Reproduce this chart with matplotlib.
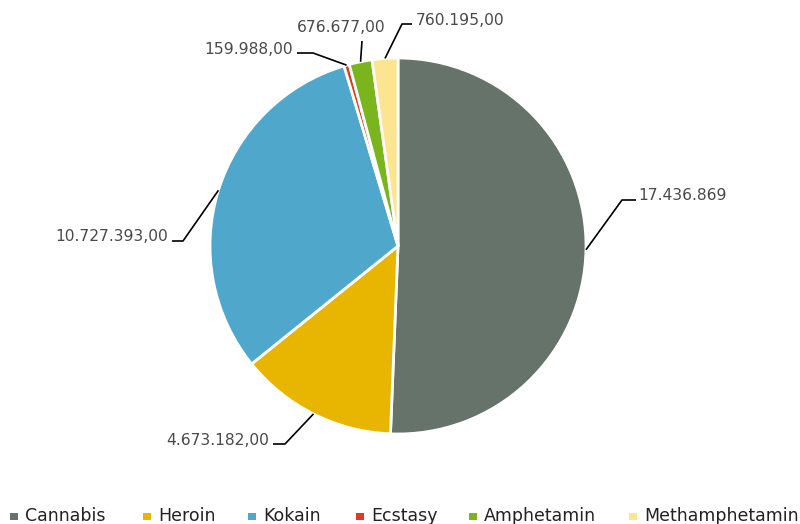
import numpy as np
import matplotlib
matplotlib.use("Agg")
import matplotlib.pyplot as plt
from matplotlib.patches import Rectangle
from matplotlib import font_manager

categories = ["Cannabis", "Heroin", "Kokain", "Ecstasy", "Amphetamin", "Methamphetamin"]
values = [17436869, 4673182, 10727393, 159988, 676677, 760195]
labels = ["17.436.869", "4.673.182,00", "10.727.393,00", "159.988,00", "676.677,00", "760.195,00"]
colors = ["#66736a", "#e8b500", "#4fa8cb", "#e03a1e", "#7ab51d", "#fde490"]

W, H = 800, 524
fig = plt.figure(figsize=(W / 100, H / 100), dpi=100)
ax = fig.add_axes([0, 0, 1, 1])

cx, cy, R = 398, H - 246, 188
wedges, _ = ax.pie(values, colors=colors, startangle=90, counterclock=False,
                   center=(cx, cy), radius=R, frame=True,
                   wedgeprops=dict(edgecolor="white", linewidth=2.0))
ax.set_xlim(0, W)
ax.set_ylim(0, H)
ax.set_aspect("equal")
ax.axis("off")

# leader layout (screen px): elbow point, end point, text anchor, ha
layout = [
    ((622, 200), (636, 200), (638, 200), "left"),
    ((285, 444), (273, 444), (269, 445), "right"),
    ((183, 241), (172, 241), (168, 241), "right"),
    ((313, 53), (297, 53), (293, 54), "right"),
    ((362, 41), (362, 41), (385, 32), "right"),
    ((402, 24), (412, 24), (416, 25), "left"),
]

for w, lab, (elb, end, tpos, ha) in zip(wedges, labels, layout):
    mid = np.deg2rad((w.theta1 + w.theta2) / 2)
    sx = cx + R * np.cos(mid)
    sy = cy + R * np.sin(mid)
    xs = [sx, elb[0], end[0]]
    ys = [sy, H - elb[1], H - end[1]]
    ax.plot(xs, ys, color="black", lw=1.2, solid_capstyle="butt")
    ax.text(tpos[0], H - tpos[1], lab, ha=ha, va="baseline",
            fontsize=11.2, color="#4a4a4a", family="DejaVu Sans")

# legend
avail = {f.name for f in font_manager.fontManager.ttflist}
legfont = "DejaVu Sans"
for cand in ["DejaVu Sans Condensed", "Liberation Sans Narrow"]:
    if cand in avail:
        legfont = cand
        break
leg_x = [10, 143, 248, 356, 469, 629]
for x, cat, col in zip(leg_x, categories, colors):
    ax.add_patch(Rectangle((x, H - 520), 7.5, 7.5, facecolor=col, edgecolor="none"))
    ax.text(x + 15, H - 521, cat, ha="left", va="baseline", fontsize=12.5,
            color="#222222", family=legfont)

fig.savefig("out.png", dpi=100, facecolor="white")
